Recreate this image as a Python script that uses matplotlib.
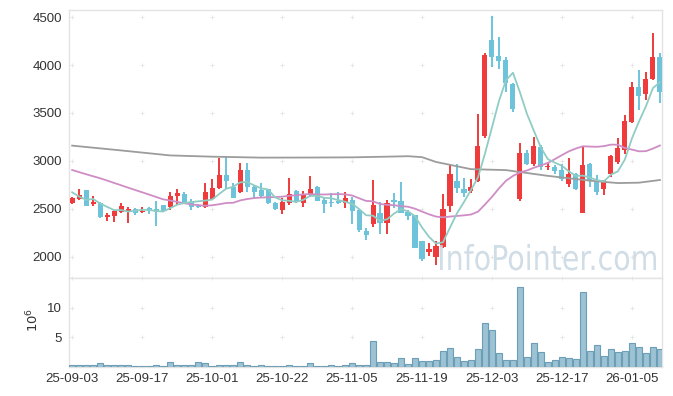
import numpy as np
import pandas as pd
import matplotlib
matplotlib.use("Agg")
import matplotlib.pyplot as plt
from matplotlib.textpath import TextPath
from matplotlib.patches import PathPatch
from matplotlib.font_manager import FontProperties
from matplotlib.transforms import Affine2D

# daily candles, 25-09-03 .. 26-01-09 (85 trading days)
opens = [2566, 2604, 2698, 2555, 2566, 2420, 2430, 2472, 2472, 2500,
         2465, 2507, 2497, 2542, 2517, 2639, 2656, 2576, 2531, 2517,
         2604, 2715, 2854, 2733, 2674, 2906, 2733, 2698, 2705, 2566,
         2490, 2559, 2687, 2559, 2646, 2733, 2594, 2566, 2587, 2566,
         2594, 2490, 2271, 2340, 2455, 2351, 2594, 2583, 2472, 2437,
         2167, 2056, 2000, 2108, 2531, 2792, 2708, 2691, 2795, 3260,
         4260, 4094, 4052, 3802, 2601, 3080, 2969, 3142, 2935, 2941,
         2906, 2757, 2865, 2462, 2969, 2785, 2705, 2861, 2993, 3115,
         3410, 3768, 3695, 3854, 4080]
highs = [2628, 2705, 2702, 2635, 2570, 2458, 2490, 2566, 2524, 2514,
         2517, 2524, 2587, 2545, 2680, 2705, 2680, 2600, 2549, 2767,
         2809, 3028, 3052, 2767, 2983, 2976, 2750, 2767, 2710, 2576,
         2611, 2819, 2698, 2687, 2844, 2740, 2628, 2670, 2680, 2680,
         2628, 2500, 2299, 2802, 2576, 2594, 2663, 2785, 2490, 2440,
         2170, 2146, 2170, 2656, 2969, 2969, 2820, 2809, 3490, 4120,
         4510, 4288, 4087, 3810, 3184, 3115, 3253, 3167, 2993, 2958,
         2969, 3028, 2870, 3143, 2983, 2854, 2805, 3062, 3236, 3479,
         3826, 3948, 3930, 4333, 4122]
lows = [2549, 2594, 2531, 2531, 2410, 2378, 2368, 2455, 2351, 2441,
        2455, 2448, 2323, 2475, 2490, 2542, 2549, 2490, 2507, 2507,
        2594, 2705, 2705, 2611, 2663, 2680, 2618, 2611, 2555, 2485,
        2448, 2542, 2559, 2524, 2628, 2580, 2455, 2524, 2555, 2507,
        2340, 2260, 2177, 2316, 2240, 2240, 2507, 2455, 2385, 2090,
        1960, 2007, 1920, 2095, 2472, 2670, 2628, 2663, 2780, 3240,
        3983, 3955, 3722, 3510, 2587, 2958, 2948, 2906, 2906, 2865,
        2795, 2733, 2698, 2462, 2733, 2646, 2646, 2837, 2969, 3076,
        3392, 3531, 3635, 3840, 3600]
closes = [2611, 2646, 2531, 2576, 2420, 2437, 2479, 2531, 2500, 2462,
          2483, 2479, 2465, 2479, 2635, 2663, 2566, 2517, 2517, 2674,
          2715, 2854, 2795, 2618, 2906, 2733, 2680, 2639, 2559, 2497,
          2576, 2656, 2583, 2656, 2708, 2587, 2549, 2559, 2566, 2615,
          2483, 2281, 2229, 2542, 2351, 2559, 2576, 2462, 2430, 2097,
          1976, 2083, 2111, 2497, 2865, 2722, 2670, 2733, 3156, 4104,
          4087, 4045, 3816, 3545, 3080, 2969, 3156, 2941, 2945, 2899,
          2809, 2865, 2705, 2958, 2795, 2680, 2802, 3052, 3132, 3417,
          3768, 3680, 3851, 4080, 3722]
# volume, millions
volume = [0.27, 0.27, 0.27, 0.27, 0.6, 0.4, 0.27, 0.4, 0.4, 0.1,
          0.1, 0.1, 0.27, 0.1, 0.83, 0.27, 0.27, 0.4, 0.83, 0.6,
          0.15, 0.4, 0.27, 0.27, 0.83, 0.3, 0.1, 0.3, 0.1, 0.1,
          0.1, 0.4, 0.1, 0.1, 0.6, 0.1, 0.1, 0.27, 0.1, 0.3,
          0.67, 0.3, 0.3, 4.4, 0.83, 0.83, 0.67, 1.5, 0.5, 1.5,
          1.0, 1.0, 1.2, 2.67, 3.17, 1.67, 1.0, 1.2, 3.0, 7.5,
          6.17, 2.33, 1.17, 1.17, 13.55, 1.67, 4.0, 2.5, 0.83, 1.17,
          1.67, 1.5, 1.33, 12.67, 2.67, 3.67, 1.83, 3.0, 2.5, 2.67,
          4.0, 3.33, 2.33, 3.33, 3.0]

# moving average values before enough history is on the chart
ma5_head = [2674, 2630, 2595, 2604]
ma20_head = [2906, 2884, 2862, 2841, 2820, 2796, 2771, 2747, 2722, 2698,
             2674, 2650, 2625, 2601, 2588, 2574, 2560, 2548, 2540]
# 120-day line
ma120_idx = [0, 7, 14, 20, 27, 34, 40, 45, 48, 50, 52, 54, 57, 62, 68, 74, 78, 81, 84]
ma120_val = [3160, 3110, 3058, 3045, 3035, 3036, 3038, 3045, 3050, 3040,
             2990, 2960, 2915, 2905, 2845, 2795, 2770, 2774, 2802]

tick_pos = [0, 10, 20, 30, 40, 50, 60, 70, 80]
tick_labels = ['25-09-03', '25-09-17', '25-10-01', '25-10-22', '25-11-05',
               '25-11-19', '25-12-03', '25-12-17', '26-01-05']

RED = '#ef3b3b'
BLUE = '#6dc3da'
GRID = '#e4e4e4'
plt.rcParams['font.family'] = ['Liberation Sans', 'DejaVu Sans']

n = len(closes)
x = np.arange(n)
o = np.array(opens, float)
c = np.array(closes, float)
h = np.array(highs, float)
l = np.array(lows, float)
up = c >= o

cs = pd.Series(c)
ma5 = cs.rolling(5).mean().to_numpy()
ma5[:4] = ma5_head
ma20 = cs.rolling(20).mean().to_numpy()
ma20[:19] = ma20_head

fig = plt.figure(figsize=(6.73, 3.96), dpi=100)
W, H = 673, 396
ax = fig.add_axes([69 / W, 1 - 278 / H, (662 - 69) / W, (278 - 10) / H])
axv = fig.add_axes([69 / W, 1 - 367 / H, (662 - 69) / W, (367 - 278) / H], sharex=ax)

cols = np.where(up, RED, BLUE)
ax.vlines(x, l, h, colors=cols, lw=1.4, zorder=2)
body_lo = np.minimum(o, c)
body_h = np.maximum(np.abs(c - o), 10)
ax.bar(x, body_h, bottom=body_lo, width=0.72, color=cols, lw=0, zorder=3)

ax.plot(ma120_idx, ma120_val, color='#9c9c9c', lw=1.3, zorder=4)
ax.plot(x, ma20, color='#cf8dc6', lw=1.3, zorder=4)
ax.plot(x, ma5, color='#8fcdc4', lw=1.3, zorder=5)

ax.set_xlim(-0.45, n - 0.7)
ax.set_ylim(1781, 4573)
ax.set_yticks([2000, 2500, 3000, 3500, 4000, 4500])

axv.bar(x, volume, width=0.95, color='#9cc2d3', edgecolor='#6c9fb7', lw=0.8, zorder=3)
axv.set_ylim(0, 15)
axv.set_yticks([5, 10])
axv.set_xticks(tick_pos)
axv.set_xticklabels(tick_labels)

# small cross marks at the grid intersections
gx, gy = np.meshgrid(tick_pos, [2000, 2500, 3000, 3500, 4000, 4500])
ax.scatter(gx.ravel(), gy.ravel(), marker='+', s=10, color=GRID, lw=0.6, zorder=1)
gx, gy = np.meshgrid(tick_pos, [5, 10, 15])
axv.scatter(gx.ravel(), gy.ravel(), marker='+', s=10, color=GRID, lw=0.6, zorder=1, clip_on=False)

for a in (ax, axv):
    for s in a.spines.values():
        s.set_color('#e3e3e3')
        s.set_linewidth(1)
    a.tick_params(length=0, labelsize=9.5, colors='#333333', pad=5)
ax.tick_params(labelbottom=False)
axv.tick_params(axis='x', pad=4)

fig.text(33 / W, 1 - 320 / H, r'$10^6$', rotation=90, ha='center', va='center',
         fontsize=9.5, color='#333333')

# watermark
tp = TextPath((0, 0), 'InfoPointer.com', size=1, prop=FontProperties(family='DejaVu Sans'))
ext = tp.get_extents()
sx = 216 / ext.width
sy = 25 / 0.729
tr = Affine2D().scale(sx, sy).translate(440 - ext.x0 * sx, H - 270)
wm = PathPatch(tp, facecolor='#c8d8e2', edgecolor='none', alpha=0.85, transform=tr, zorder=10)
fig.add_artist(wm)

fig.savefig('out.png', dpi=100)
